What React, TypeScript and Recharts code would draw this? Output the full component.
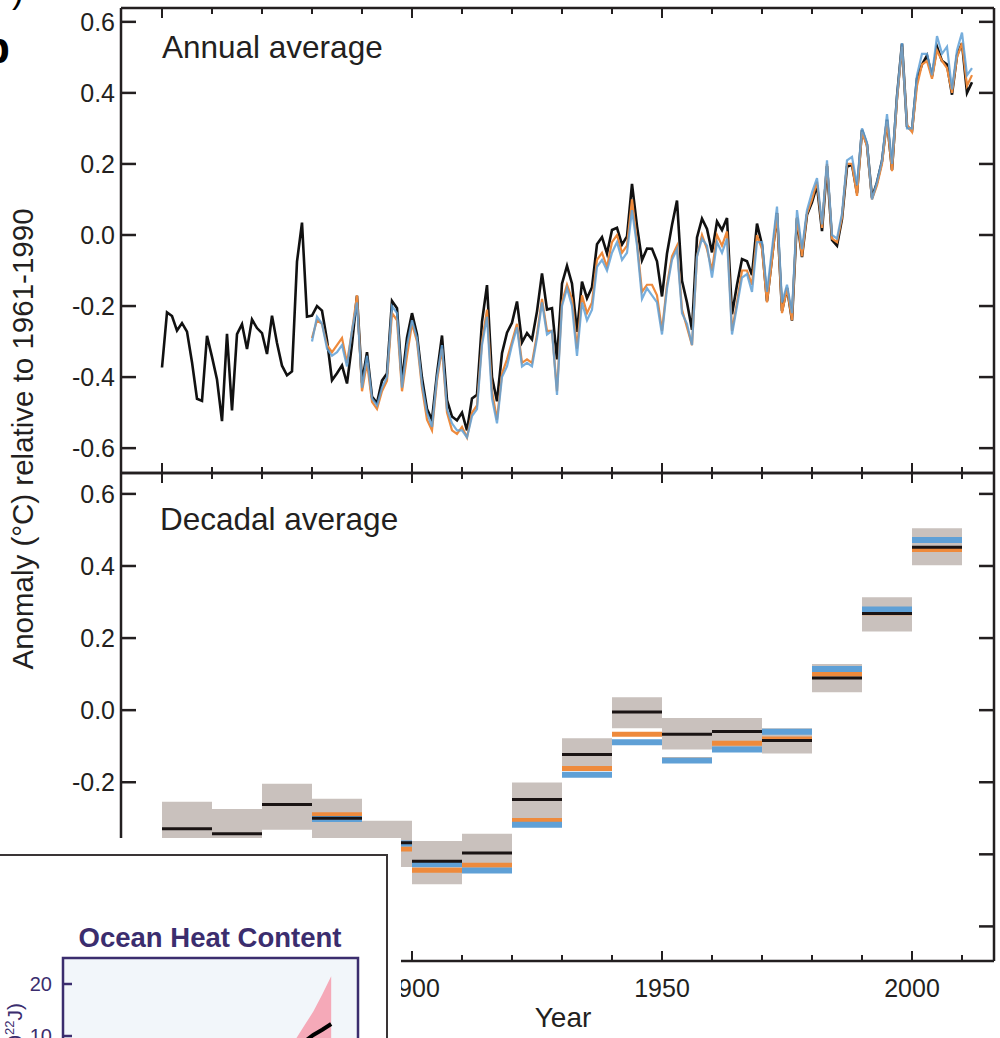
import React from 'react';
import {
  LineChart,
  Line,
  XAxis,
  YAxis,
  ReferenceArea,
  ReferenceLine,
  ComposedChart,
  Area,
} from 'recharts';

const FONT = '"Liberation Sans", Arial, Helvetica, sans-serif';
const INK = '#231f20';
const ORANGE = '#ee8a3c';
const BLUE = '#5fa0d6';
const BOX = '#c9c1bd';
const PURPLE = '#3b2d6e';

// Annual global mean anomalies (°C, relative to 1961-1990)
const hadcrutStart = 1850;
const hadcrut4 = [
  -0.373, -0.218, -0.228, -0.269, -0.248, -0.272, -0.358, -0.461, -0.467, -0.284,
  -0.343, -0.407, -0.524, -0.278, -0.494, -0.279, -0.251, -0.321, -0.238, -0.262,
  -0.276, -0.335, -0.227, -0.304, -0.368, -0.395, -0.384, -0.075, 0.035, -0.23,
  -0.227, -0.2, -0.213, -0.296, -0.409, -0.389, -0.367, -0.418, -0.307, -0.171,
  -0.416, -0.33, -0.455, -0.473, -0.41, -0.39, -0.186, -0.206, -0.412, -0.289,
  -0.22, -0.28, -0.402, -0.49, -0.52, -0.39, -0.283, -0.465, -0.511, -0.522,
  -0.5, -0.55, -0.46, -0.45, -0.244, -0.141, -0.4, -0.468, -0.333, -0.275,
  -0.247, -0.187, -0.302, -0.276, -0.294, -0.215, -0.108, -0.21, -0.206, -0.35,
  -0.137, -0.087, -0.137, -0.273, -0.131, -0.178, -0.147, -0.026, -0.006, -0.052,
  0.014, 0.02, -0.027, -0.004, 0.144, 0.025, -0.071, -0.038, -0.039, -0.074,
  -0.173, -0.052, 0.028, 0.097, -0.129, -0.19, -0.267, -0.007, 0.046, 0.017,
  -0.049, 0.038, 0.014, 0.048, -0.223, -0.14, -0.068, -0.074, -0.113, 0.032,
  -0.027, -0.186, -0.065, 0.062, -0.214, -0.149, -0.241, 0.047, -0.062, 0.057,
  0.092, 0.14, 0.011, 0.194, -0.014, -0.03, 0.045, 0.192, 0.198, 0.118,
  0.296, 0.254, 0.105, 0.148, 0.208, 0.325, 0.183, 0.39, 0.539, 0.306,
  0.294, 0.441, 0.48, 0.505, 0.447, 0.53, 0.49, 0.48, 0.395, 0.506,
  0.54, 0.4, 0.43,
];

const otherStart = 1880;
const mlost = [
  -0.29, -0.24, -0.25, -0.31, -0.33, -0.31, -0.29, -0.36, -0.27, -0.17,
  -0.44, -0.36, -0.47, -0.49, -0.44, -0.41, -0.22, -0.24, -0.44, -0.34,
  -0.25, -0.3, -0.43, -0.52, -0.55, -0.41, -0.32, -0.5, -0.55, -0.56,
  -0.54, -0.57, -0.5, -0.48, -0.3, -0.21, -0.44, -0.52, -0.39, -0.35,
  -0.3, -0.25, -0.36, -0.35, -0.36, -0.28, -0.18, -0.27, -0.27, -0.44,
  -0.19, -0.14, -0.18, -0.32, -0.17, -0.22, -0.19, -0.07, -0.05, -0.09,
  -0.02, 0.0, -0.05, -0.03, 0.1, -0.02, -0.16, -0.14, -0.14, -0.17,
  -0.27, -0.14, -0.06, -0.03, -0.21, -0.26, -0.31, -0.06, 0.0, -0.04,
  -0.1, 0.0, -0.03, 0.01, -0.27, -0.19, -0.1, -0.1, -0.14, 0.0,
  -0.04, -0.19, -0.07, 0.06, -0.22, -0.15, -0.24, 0.05, -0.06, 0.06,
  0.1, 0.15, 0.02, 0.2, -0.01, -0.02, 0.05, 0.2, 0.2, 0.11,
  0.29, 0.25, 0.1, 0.14, 0.2, 0.32, 0.18, 0.38, 0.53, 0.31,
  0.29, 0.42, 0.48, 0.49, 0.44, 0.52, 0.49, 0.47, 0.4, 0.5,
  0.54, 0.42, 0.45,
];

const giss = [
  -0.3, -0.23, -0.25, -0.32, -0.34, -0.33, -0.31, -0.37, -0.27, -0.19,
  -0.43, -0.34, -0.46, -0.48, -0.43, -0.4, -0.2, -0.22, -0.43, -0.31,
  -0.24, -0.29, -0.42, -0.5, -0.54, -0.4, -0.31, -0.49, -0.53, -0.55,
  -0.55, -0.57, -0.51, -0.49, -0.31, -0.23, -0.46, -0.53, -0.4, -0.37,
  -0.31, -0.26, -0.37, -0.36, -0.37, -0.29, -0.19, -0.28, -0.27, -0.45,
  -0.2, -0.15, -0.2, -0.34, -0.19, -0.24, -0.21, -0.09, -0.07, -0.1,
  -0.05, -0.02, -0.07, -0.05, 0.07, -0.03, -0.18, -0.15, -0.17, -0.19,
  -0.28, -0.15, -0.07, -0.04, -0.22, -0.25, -0.31, -0.06, -0.01, -0.03,
  -0.12, -0.02, -0.05, -0.01, -0.28, -0.2, -0.12, -0.11, -0.16, -0.02,
  -0.02, -0.16, -0.04, 0.08, -0.19, -0.14, -0.22, 0.07, -0.04, 0.07,
  0.12, 0.16, 0.03, 0.21, 0.0, -0.01, 0.06, 0.21, 0.22, 0.14,
  0.3, 0.26, 0.1, 0.15, 0.21, 0.34, 0.2, 0.39, 0.54, 0.3,
  0.3, 0.45, 0.51, 0.51, 0.45, 0.56, 0.51, 0.53, 0.41, 0.52,
  0.57, 0.45, 0.47,
];

// Decadal averages
const decades = [1850, 1860, 1870, 1880, 1890, 1900, 1910, 1920, 1930, 1940, 1950, 1960, 1970, 1980, 1990, 2000];
const decBoxHigh = [-0.254, -0.274, -0.204, -0.246, -0.307, -0.363, -0.343, -0.201, -0.078, 0.036, -0.022, -0.022, -0.05, 0.128, 0.313, 0.505];
const decBoxLow = [-0.4, -0.41, -0.332, -0.36, -0.435, -0.483, -0.435, -0.302, -0.162, -0.05, -0.109, -0.114, -0.12, 0.05, 0.218, 0.402];
const decHadcrut4 = [-0.329, -0.343, -0.262, -0.3, -0.368, -0.419, -0.396, -0.248, -0.123, -0.005, -0.067, -0.059, -0.084, 0.089, 0.268, 0.452];
const decMlost = [null, null, null, -0.29, -0.385, -0.444, -0.43, -0.306, -0.162, -0.067, -0.138, -0.092, -0.08, 0.1, 0.27, 0.446];
const decGiss = [null, null, null, -0.302, -0.37, -0.427, -0.445, -0.318, -0.179, -0.089, -0.14, -0.109, -0.06, 0.114, 0.279, 0.472];

const yTicks = [-0.6, -0.4, -0.2, 0, 0.2, 0.4, 0.6];
const yearTicks = [1850, 1860, 1870, 1880, 1890, 1900, 1910, 1920, 1930, 1940, 1950, 1960, 1970, 1980, 1990, 2000, 2010];
const yearLabels = [1850, 1900, 1950, 2000];

// Ocean heat content inset (10^22 J)
const ohcYears = [1998, 2000, 2002, 2004, 2006, 2008, 2010];
const ohcMean = [5.5, 6.6, 7.8, 8.9, 10.2, 11.2, 12.3];
const ohcLow = [5.2, 6.2, 6.5, 6.0, 5.5, 4.8, 3.5];
const ohcHigh = [5.8, 7.0, 9.3, 12.0, 14.7, 18.0, 21.5];
const ohcTicks = [-10, 0, 10, 20];

const X_DOMAIN = [1841.8, 2016.4];
const TOP_Y = [-0.67, 0.639];
const BOT_Y = [-0.696, 0.658];

const annualRows = hadcrut4.map((v, i) => {
  const year = hadcrutStart + i;
  const j = year - otherStart;
  return {
    year,
    had: v,
    mlost: j >= 0 ? mlost[j] : null,
    giss: j >= 0 ? giss[j] : null,
  };
});

const decadalRows = decades.map((d, i) => ({
  year: d,
  lo: decBoxLow[i],
  hi: decBoxHigh[i],
  had: decHadcrut4[i],
  mlost: decMlost[i],
  giss: decGiss[i],
}));

const ohcRows = ohcYears.map((y, i) => ({
  year: y,
  mean: ohcMean[i],
  band: [ohcLow[i], ohcHigh[i]],
}));

const axisLine = { stroke: INK, strokeWidth: 2.5 };
const fmtY = (v: number) => v.toFixed(1);
const tickLen = (v: number) => (v % 50 === 0 ? 10 : 6);

const leftTick = (labels: boolean) => (p: any) => (
  <g>
    <line x1={p.x} x2={p.x + 15} y1={p.y} y2={p.y} stroke={INK} strokeWidth={2.5} />
    {labels && (
      <text x={p.x - 6} y={p.y} dy={9} textAnchor="end" fontSize={25} fill={INK} fontFamily={FONT}>
        {fmtY(p.payload.value)}
      </text>
    )}
  </g>
);

const rightTick = (p: any) => (
  <line x1={p.x} x2={p.x - 15} y1={p.y} y2={p.y} stroke={INK} strokeWidth={2.5} />
);

const topTick = (p: any) => (
  <line x1={p.x} x2={p.x} y1={p.y} y2={p.y + tickLen(p.payload.value)} stroke={INK} strokeWidth={2} />
);

const bottomTick = (labels: boolean) => (p: any) => (
  <g>
    <line x1={p.x} x2={p.x} y1={p.y} y2={p.y - tickLen(p.payload.value)} stroke={INK} strokeWidth={2} />
    {labels && yearLabels.includes(p.payload.value) && (
      <text x={p.x} y={p.y + 36} textAnchor="middle" fontSize={25} fill={INK} fontFamily={FONT}>
        {p.payload.value}
      </text>
    )}
  </g>
);

const ohcTick = (p: any) => (
  <g>
    <line x1={p.x} x2={p.x + 9} y1={p.y} y2={p.y} stroke={PURPLE} strokeWidth={2.5} />
    <text x={p.x - 11} y={p.y} dy={7} textAnchor="end" fontSize={20} fill={PURPLE} fontFamily={FONT}>
      {p.payload.value}
    </text>
  </g>
);

// every panel has a frame with inward ticks on all four sides
const Axes = ({ yDomain, bottomLabels, yLabels }: any) => [
  <XAxis key="xb" xAxisId="b" orientation="bottom" type="number" dataKey="year" domain={X_DOMAIN} allowDataOverflow
    ticks={yearTicks} interval={0} height={1} tickSize={0} tickMargin={0} tickLine={false} axisLine={axisLine}
    tick={bottomTick(bottomLabels)} />,
  <XAxis key="xt" xAxisId="t" orientation="top" type="number" dataKey="year" domain={X_DOMAIN} allowDataOverflow
    ticks={yearTicks} interval={0} height={1} tickSize={0} tickMargin={0} tickLine={false} axisLine={axisLine}
    tick={topTick} />,
  <YAxis key="yl" yAxisId="l" orientation="left" type="number" domain={yDomain} allowDataOverflow
    ticks={yTicks} interval={0} width={1} tickSize={0} tickMargin={0} tickLine={false} axisLine={axisLine}
    tick={leftTick(yLabels)} />,
  <YAxis key="yr" yAxisId="r" orientation="right" type="number" domain={yDomain} allowDataOverflow
    ticks={yTicks} interval={0} width={1} tickSize={0} tickMargin={0} tickLine={false} axisLine={axisLine}
    tick={rightTick} />,
];

export default function App() {
  return (
    <div style={{ position: 'fixed', left: 0, top: 0, width: 1000, height: 1038, overflow: 'hidden', background: '#fff', fontFamily: FONT }}>
      {/* Annual average */}
      <div style={{ position: 'absolute', left: 0, top: 0 }}>
        <LineChart width={1000} height={480} data={annualRows} margin={{ top: 7, right: 5, bottom: 6, left: 120 }}>
          {Axes({ yDomain: TOP_Y, bottomLabels: false, yLabels: true })}
          <Line xAxisId="b" yAxisId="l" dataKey="had" stroke="#111" strokeWidth={2.6} dot={false} isAnimationActive={false} />
          <Line xAxisId="b" yAxisId="l" dataKey="mlost" stroke={ORANGE} strokeWidth={2.2} dot={false} isAnimationActive={false} />
          <Line xAxisId="b" yAxisId="l" dataKey="giss" stroke={BLUE} strokeOpacity={0.85} strokeWidth={2.2} dot={false} isAnimationActive={false} />
        </LineChart>
      </div>

      {/* Decadal average */}
      <div style={{ position: 'absolute', left: 0, top: 0 }}>
        <LineChart width={1000} height={1038} data={decadalRows} margin={{ top: 472, right: 5, bottom: 76, left: 120 }}>
          {Axes({ yDomain: BOT_Y, bottomLabels: true, yLabels: true })}
          {decadalRows.map((r) => (
            <ReferenceArea key={`box-${r.year}`} xAxisId="b" yAxisId="l" x1={r.year} x2={r.year + 10} y1={r.lo} y2={r.hi}
              fill={BOX} fillOpacity={1} stroke="none" />
          ))}
          {decadalRows.filter((r) => r.mlost !== null).map((r) => (
            <ReferenceLine key={`m-${r.year}`} xAxisId="b" yAxisId="l" segment={[{ x: r.year, y: r.mlost }, { x: r.year + 10, y: r.mlost }]}
              stroke={ORANGE} strokeWidth={5} />
          ))}
          {decadalRows.filter((r) => r.giss !== null).map((r) => (
            <ReferenceLine key={`g-${r.year}`} xAxisId="b" yAxisId="l" segment={[{ x: r.year, y: r.giss }, { x: r.year + 10, y: r.giss }]}
              stroke={BLUE} strokeWidth={6} />
          ))}
          {decadalRows.map((r) => (
            <ReferenceLine key={`h-${r.year}`} xAxisId="b" yAxisId="l" segment={[{ x: r.year, y: r.had }, { x: r.year + 10, y: r.had }]}
              stroke="#1a1414" strokeWidth={3} />
          ))}
        </LineChart>
      </div>

      {/* titles and axis labels */}
      <svg width={1000} height={1038} style={{ position: 'absolute', left: 0, top: 0, pointerEvents: 'none' }} fontFamily={FONT}>
        <text x={-17} y={63} fontSize={44} fontWeight="bold" fill="#000">b</text>
        <text x={12} y={2} fontSize={36} fill="#000">)</text>
        <text x={162} y={58} fontSize={31.5} fill={INK}>Annual average</text>
        <text x={160} y={530} fontSize={31.5} fill={INK}>Decadal average</text>
        <text transform="translate(33,439) rotate(-90)" textAnchor="middle" fontSize={29.5} fill={INK}>
          Anomaly (°C) relative to 1961-1990
        </text>
        <text x={563} y={1027} textAnchor="middle" fontSize={28} fill={INK}>Year</text>
      </svg>

      {/* Ocean heat content inset */}
      <div style={{ position: 'absolute', left: 0, top: 838, width: 401, height: 200, background: '#fff', overflow: 'hidden' }}>
        <div style={{ position: 'absolute', left: -10, top: 15.75, width: 398.25, height: 400, border: '2.5px solid #3a3536', boxSizing: 'border-box' }} />
        <div style={{ position: 'absolute', left: 0, top: 100 }}>
          <ComposedChart width={400} height={240} data={ohcRows} margin={{ top: 20, right: 42, bottom: 12, left: 62 }}>
            <ReferenceArea x1={1950} x2={2016} y1={-15} y2={25} fill="#f2f6fa" fillOpacity={1} stroke={PURPLE} strokeWidth={2.5} />
            <XAxis type="number" dataKey="year" domain={[1950, 2016]} allowDataOverflow hide />
            <YAxis type="number" domain={[-15, 25]} allowDataOverflow ticks={ohcTicks} interval={0} width={1}
              tickSize={0} tickMargin={0} tickLine={false} axisLine={false} tick={ohcTick} />
            <Area dataKey="band" stroke="none" fill="#f5a9b8" fillOpacity={1} isAnimationActive={false} />
            <Line dataKey="mean" stroke="#000" strokeWidth={4} dot={false} isAnimationActive={false} />
          </ComposedChart>
        </div>
        <svg width={401} height={200} style={{ position: 'absolute', left: 0, top: 0, pointerEvents: 'none' }} fontFamily={FONT}>
          <text x={210} y={109} textAnchor="middle" fontSize={27.5} fontWeight="bold" fill={PURPLE}>Ocean Heat Content</text>
          <text transform="translate(22,165) rotate(-90)" textAnchor="end" fontSize={21} fill={PURPLE}>
            Heat content (10<tspan dy={-8} fontSize={13}>22</tspan><tspan dy={8}>J)</tspan>
          </text>
        </svg>
      </div>
    </div>
  );
}
